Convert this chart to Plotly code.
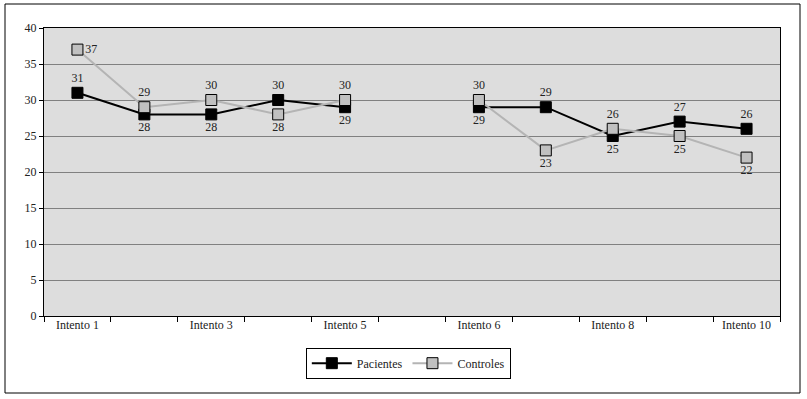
import plotly.graph_objects as go

categories = ["Intento 1", "Intento 2", "Intento 3", "Intento 4", "Intento 5", "",
              "Intento 6", "Intento 7", "Intento 8", "Intento 9", "Intento 10"]
shown_labels = ["Intento 1", "", "Intento 3", "", "Intento 5", "",
                "Intento 6", "", "Intento 8", "", "Intento 10"]
pacientes = [31, 28, 28, 30, 29, None, 29, 29, 25, 27, 26]
controles = [37, 29, 30, 28, 30, None, 30, 23, 26, 25, 22]
pac_pos = ["top center", "bottom center", "bottom center", "top center", "bottom center", "middle center",
           "bottom center", "top center", "bottom center", "top center", "top center"]
con_pos = ["middle right", "top center", "top center", "bottom center", "top center", "middle center",
           "top center", "bottom center", "top center", "bottom center", "bottom center"]

idx = list(range(len(categories)))
FONT = "Liberation Serif"

def lbl(v):
    return "" if v is None else str(v)

fig = go.Figure()
fig.add_trace(go.Scatter(
    x=idx, y=pacientes, name="Pacientes", mode="lines+markers+text",
    line=dict(color="black", width=2),
    marker=dict(symbol="square", size=11, color="black", line=dict(color="black", width=1)),
    text=[lbl(v) for v in pacientes], textposition=pac_pos,
    textfont=dict(family=FONT, size=12, color="#222"),
    connectgaps=False,
))
fig.add_trace(go.Scatter(
    x=idx, y=controles, name="Controles", mode="lines+markers+text",
    line=dict(color="#B4B4B4", width=2),
    marker=dict(symbol="square", size=11, color="#C0C0C0", line=dict(color="black", width=1)),
    text=[lbl(v) for v in controles], textposition=con_pos,
    textfont=dict(family=FONT, size=12, color="#222"),
    connectgaps=False,
))

L, R, T, B = 44, 27, 28, 83
W, H = 807, 399
pw, ph = W - L - R, H - T - B

fig.update_layout(
    width=W, height=H,
    margin=dict(l=L, r=R, t=T, b=B, pad=0),
    paper_bgcolor="white", plot_bgcolor="#DDDDDD",
    font=dict(family=FONT, size=12, color="#222"),
    showlegend=True,
    legend=dict(orientation="h", x=0.495, xanchor="center", y=-0.11, yanchor="top",
                bordercolor="black", borderwidth=1, bgcolor="white",
                font=dict(family=FONT, size=12, color="#222"), itemwidth=40),
    xaxis=dict(range=[-0.5, len(categories) - 0.5], tickmode="array",
               tickvals=[i - 0.5 for i in range(len(categories) + 1)],
               ticktext=[""] * (len(categories) + 1),
               ticks="outside", ticklen=5, tickcolor="black", tickwidth=1,
               showgrid=False, zeroline=False, showline=True, linecolor="black",
               linewidth=1, mirror=True, fixedrange=True),
    xaxis2=dict(overlaying="x", anchor="y", side="bottom",
                range=[-0.5, len(categories) - 0.5], tickmode="array",
                tickvals=idx, ticktext=shown_labels, ticks="",
                showgrid=False, zeroline=False, showline=False,
                tickfont=dict(family=FONT, size=12, color="#222")),
    yaxis=dict(range=[0, 40], dtick=5, tick0=0, ticks="outside", ticklen=4,
               tickcolor="black", showgrid=True, gridcolor="#808080", gridwidth=1,
               zeroline=False, showline=True, linecolor="black", linewidth=1, mirror=True,
               tickfont=dict(family=FONT, size=12, color="#222")),
    shapes=[dict(type="rect", xref="paper", yref="paper",
                 x0=(5 - L) / pw, x1=(800 - L) / pw,
                 y0=(H - B - 393) / ph, y1=(H - B - 4) / ph,
                 line=dict(color="black", width=1), fillcolor="rgba(0,0,0,0)", layer="below")],
)
fig.add_trace(go.Scatter(x=[0], y=[None], xaxis="x2", showlegend=False, hoverinfo="skip"))

fig.write_html("out.html", config={"displayModeBar": False},
               post_script="document.body.style.margin='0';document.body.style.padding='0';")
